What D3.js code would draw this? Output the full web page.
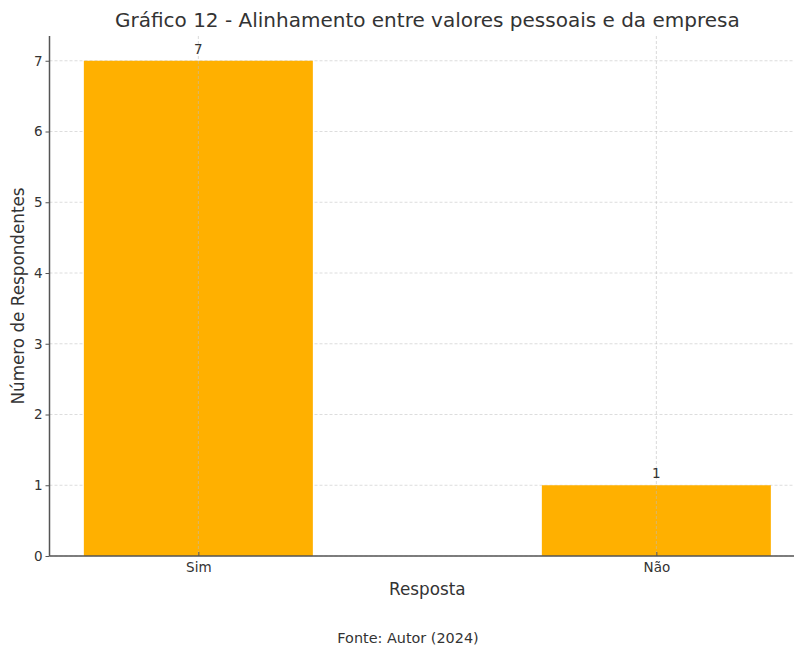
<!DOCTYPE html>
<html>
<head>
<meta charset="utf-8">
<script src="https://cdn.jsdelivr.net/npm/d3@7"></script>
<style>
  html, body { margin: 0; padding: 0; background: #fff; }
  svg { display: block; font-family: "DejaVu Sans", sans-serif; }
</style>
</head>
<body>
<svg id="chart" width="794" height="648"></svg>
<script>
// Respostas e número de respondentes
const categories = ["Sim", "Não"];
const counts = [7, 1];
const yTicks = [0, 1, 2, 3, 4, 5, 6, 7];

const titleText = "Gráfico 12 - Alinhamento entre valores pessoais e da empresa";
const xLabelText = "Resposta";
const yLabelText = "Número de Respondentes";
const sourceText = "Fonte: Autor (2024)";

const svg = d3.select("#chart");
const plotLeft = 49.5, plotTop = 36, plotBottom = 556;
const unit = 458; // pixels per category step
const barHalf = 0.25;

// Category index scale; domain padded like a bar chart with 5% margins
const x = d3.scaleLinear().domain([-0.325, 1.325]).range([plotLeft, plotLeft + 1.65 * unit]);
const y = d3.scaleLinear().domain([0, 7.35]).range([plotBottom, plotTop]);

const textColor = "#333";
const gridColor = "#d4d4d4";
const tickFont = 13.5;

// horizontal grid lines (behind bars)
svg.append("g").selectAll("line").data(yTicks).join("line")
  .attr("x1", plotLeft).attr("x2", 794)
  .attr("y1", d => y(d)).attr("y2", d => y(d))
  .attr("stroke", gridColor).attr("stroke-width", 0.8)
  .attr("stroke-dasharray", "3,2");

// bars
svg.append("g").selectAll("rect").data(counts).join("rect")
  .attr("x", (d, i) => x(i - barHalf))
  .attr("width", (d, i) => x(i + barHalf) - x(i - barHalf))
  .attr("y", d => y(d))
  .attr("height", d => y(0) - y(d))
  .attr("fill", "#ffb000");

// vertical grid lines at categories
svg.append("g").selectAll("line").data(categories).join("line")
  .attr("x1", (d, i) => x(i)).attr("x2", (d, i) => x(i))
  .attr("y1", plotTop).attr("y2", plotBottom)
  .attr("stroke", "#bbb").attr("stroke-opacity", 0.7).attr("stroke-width", 0.8)
  .attr("stroke-dasharray", "3,2");

// value labels
svg.append("g").selectAll("text").data(counts).join("text")
  .attr("x", (d, i) => x(i))
  .attr("y", d => y(d) - 7)
  .attr("text-anchor", "middle")
  .attr("font-size", tickFont)
  .attr("fill", textColor)
  .text(d => d);

// y axis
const yAxis = d3.axisLeft(y).tickValues(yTicks).tickSize(4).tickPadding(3).tickFormat(d3.format("d"));
const gy = svg.append("g").attr("transform", `translate(${plotLeft},0)`).call(yAxis);
gy.select(".domain").remove();
gy.selectAll(".tick line").attr("stroke", "#555").attr("stroke-width", 1);
gy.selectAll(".tick text").attr("font-size", tickFont).attr("fill", textColor).attr("font-family", "DejaVu Sans");

// x axis (ticks pointing inward)
const xAxis = d3.axisBottom(x).tickValues(categories.map((c, i) => i))
  .tickFormat(i => categories[i]).tickSizeInner(-4).tickSizeOuter(0).tickPadding(6);
const gx = svg.append("g").attr("transform", `translate(0,${plotBottom})`).call(xAxis);
gx.select(".domain").remove();
gx.selectAll(".tick line").attr("stroke", "#555").attr("stroke-width", 1);
gx.selectAll(".tick text").attr("font-size", tickFont).attr("fill", textColor).attr("font-family", "DejaVu Sans");

// spines
svg.append("line").attr("x1", plotLeft).attr("x2", plotLeft).attr("y1", plotTop).attr("y2", plotBottom)
  .attr("stroke", "#555").attr("stroke-width", 1.5);
svg.append("line").attr("x1", plotLeft).attr("x2", 794).attr("y1", plotBottom).attr("y2", plotBottom)
  .attr("stroke", "#555").attr("stroke-width", 1.5);

// title and axis labels
const cx = (plotLeft + x(1.325)) / 2;
svg.append("text").attr("x", cx).attr("y", 27).attr("text-anchor", "middle")
  .attr("font-size", 20).attr("fill", textColor).text(titleText);
svg.append("text").attr("x", cx).attr("y", 595).attr("text-anchor", "middle")
  .attr("font-size", 16.8).attr("fill", textColor).text(xLabelText);
svg.append("text").attr("transform", `translate(24,${(plotTop + plotBottom) / 2}) rotate(-90)`)
  .attr("text-anchor", "middle").attr("font-size", 16.8).attr("fill", textColor).text(yLabelText);
svg.append("text").attr("x", 408).attr("y", 643).attr("text-anchor", "middle")
  .attr("font-size", 14.4).attr("fill", textColor).text(sourceText);
</script>
</body>
</html>
